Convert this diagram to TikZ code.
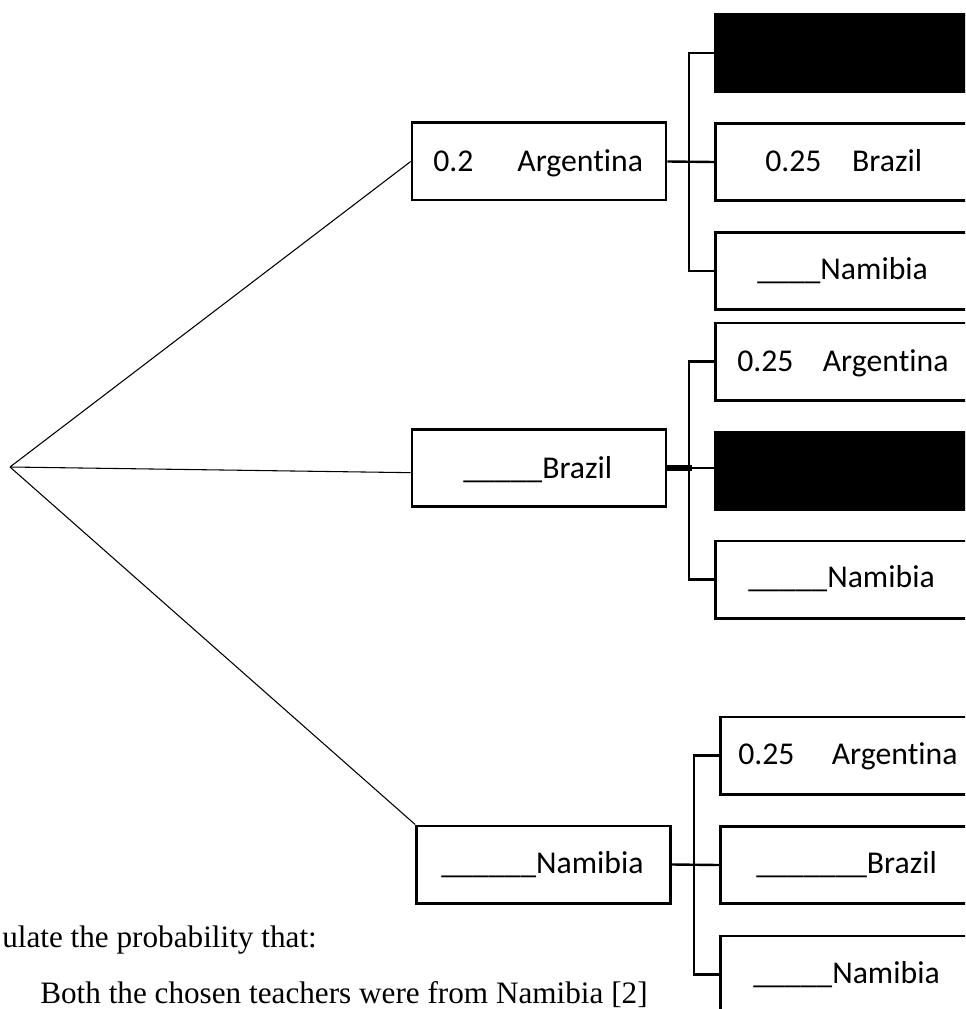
\documentclass[tikz,border=0pt]{standalone}
\usepackage{fontspec}
\setmainfont{Carlito}[Ligatures={NoCommon}]
\newfontfamily\questionfont{Liberation Serif}
\begin{document}
\begin{tikzpicture}[x=0.75pt,y=-0.75pt,
  box/.style={draw=black,line width=2pt,rectangle,inner sep=0pt,
              minimum height=58pt},
  firstbox/.style={box,minimum width=190.5pt},
  secondbox/.style={box,minimum width=206pt},
  hidden/.style={secondbox,fill=black},
  txt/.style={anchor=base west,inner sep=0pt,
              font=\fontsize{23.8pt}{28pt}\selectfont},
  qtxt/.style={inner sep=0pt,font=\questionfont\fontsize{23.4pt}{28pt}\selectfont},
  branch/.style={line width=0.8pt},
  link/.style={line width=1.8pt},
  heavylink/.style={line width=3.8pt}]
\path[use as bounding box] (0,0) rectangle (965,1009);
\clip (0,0) rectangle (965,1009);

% first draw
\coordinate (root) at (10,467);
\node[firstbox] (A1) at (539,161.5) {};
\node[firstbox] (B1) at (539,468) {};
\node[firstbox] (N1) at (543.5,864.5) {};

% second draw after Argentina
\node[hidden] (AA) at (852.5,53) {};
\node[secondbox] (AB) at (852.5,162) {};
\node[secondbox] (AN) at (852.5,271) {};

% second draw after Brazil
\node[secondbox] (BA) at (852.5,361.5) {};
\node[hidden] (BB) at (852.5,470.5) {};
\node[secondbox] (BN) at (852.5,579.5) {};

% second draw after Namibia
\node[secondbox] (NA) at (857.5,755.5) {};
\node[secondbox] (NB) at (857.5,865) {};
\node[secondbox] (NN) at (857.5,974.5) {};

% branches from the start point
\draw[branch] (root) -- (A1.west);
\draw[branch] (root) -- ([yshift=-3.5pt]B1.west);
\draw[branch] (root) -- (N1.north west);

% bracket connectors
\draw[link] (A1.east) -- (AB.west);
\draw[link] (AA.west) -- ++(-25,0) |- (AN.west);

\draw[heavylink] (B1.east) -- ++(25,0);
\draw[link] (B1.east) -- (B1.east -| BB.west);
\draw[link] (BA.west) -- ++(-25,0) |- (BN.west);

\draw[link] (N1.east) -- (NB.west);
\draw[link] (NA.west) -- ++(-25,0) |- (NN.west);

% labels
\node[txt] (tA1) at (433,172) {0.2\hspace{33pt}Argentina};
\node[txt] (tB1) at (463,478) {\_\_\_\_\_Brazil};
\node[txt] (tN1) at (441,873) {\_\_\_\_\_\_Namibia};

\node[txt] (tAB) at (765,172) {0.25\hspace{23pt}Brazil};
\node[txt] (tAN) at (757,279) {\_\_\_\_Namibia};

\node[txt] (tBA) at (737,371) {0.25\hspace{22pt}Argentina};
\node[txt] (tBN) at (748,587) {\_\_\_\_\_Namibia};

\node[txt] (tNA) at (738,764) {0.25\hspace{28pt}Argentina};
\node[txt] (tNB) at (756,873) {\_\_\_\_\_\_\_Brazil};
\node[txt] (tNN) at (753,983) {\_\_\_\_\_Namibia};

% question text
\node[qtxt,anchor=base west] (q1) at (2,947) {ulate the probability that:};
\node[qtxt,anchor=base west] (q2) at (40,1003) {Both the chosen teachers were from Namibia [2]};
\end{tikzpicture}
\end{document}
